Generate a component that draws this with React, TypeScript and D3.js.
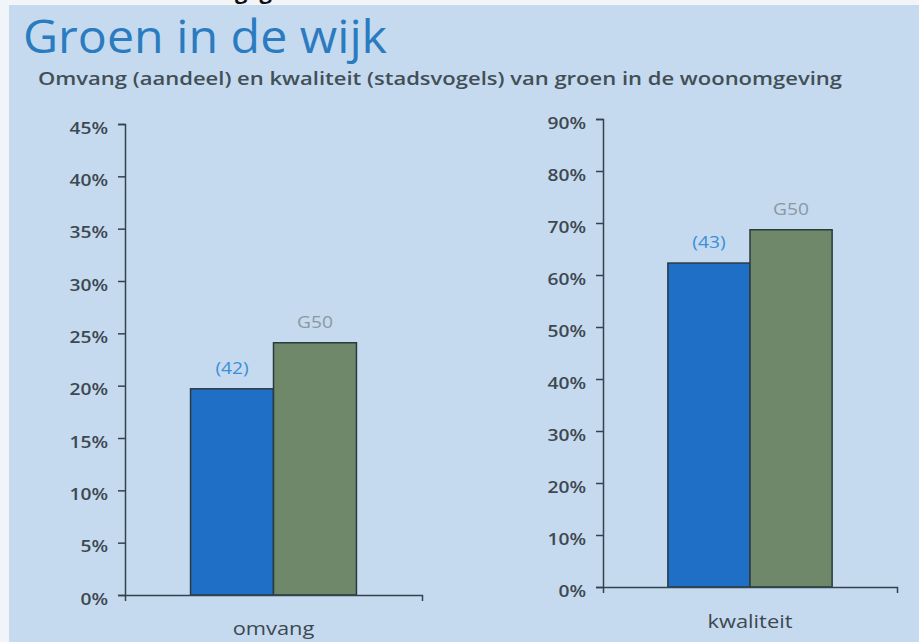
import { useEffect, useRef } from "react";
import * as d3 from "d3";

const WIDTH = 919;
const HEIGHT = 642;

// data
const CATEGORIES = ["omvang", "kwaliteit"];
const SERIES = ["wijk", "G50"];
const WIJK_LABELS = ["(42)", "(43)"];
const G50_LABEL = "G50";
const WIJK_VALUES = [19.7, 62.3];
const G50_VALUES = [24.1, 68.7];
const Y_MAX = [45, 90];
const Y_STEP = [5, 10];

// layout of the two panels (pixels)
const PANELS = [
    { x0: 125, x1: 422, yTop: 124, yBottom: 595 },
    { x0: 603, x1: 897, yTop: 119, yBottom: 587 },
];

const COLORS = { wijk: "#1f6fc6", G50: "#6e8869" };
const LABEL_COLORS = { wijk: "#3b8fd8", G50: "#8a98a1" };
const AXIS_COLOR = "#33434e";
const TEXT_COLOR = "#3d4850";
const FONT = "'Open Sans', 'Noto Sans', sans-serif";
const SX = 1.2; // the scan is a bit wider than the type

function Panel({ index }: { index: number }) {
    const axesRef = useRef<SVGGElement>(null);
    const p = PANELS[index];

    const yScale = d3
        .scaleLinear()
        .domain([0, Y_MAX[index]])
        .range([p.yBottom, p.yTop]);
    const xScale = d3
        .scaleBand()
        .domain([CATEGORIES[index]])
        .range([p.x0, p.x1])
        .paddingInner(0)
        .paddingOuter(0.395);
    const subScale = d3
        .scaleBand()
        .domain(SERIES)
        .range([0, xScale.bandwidth()]);

    const values = [WIJK_VALUES[index], G50_VALUES[index]];
    const labels = [WIJK_LABELS[index], G50_LABEL];

    useEffect(() => {
        const g = d3.select(axesRef.current);
        g.selectAll("*").remove();

        const yAxis = d3
            .axisLeft(yScale)
            .tickValues(d3.range(0, Y_MAX[index] + 0.001, Y_STEP[index]))
            .tickSize(7)
            .tickSizeOuter(7)
            .tickFormat((d) => `${d}%`);
        const ya = g
            .append("g")
            .attr("transform", `translate(${p.x0},0)`)
            .call(yAxis);
        ya.selectAll("text")
            .attr("x", -17 / SX)
            .attr("dy", 9)
            .attr("transform", `scale(${SX},1)`)
            .attr("font-size", 16)
            .attr("font-weight", 600)
            .attr("fill", TEXT_COLOR);

        const xAxis = d3.axisBottom(xScale).tickSizeInner(0).tickSizeOuter(6);
        const xa = g
            .append("g")
            .attr("transform", `translate(0,${p.yBottom})`)
            .call(xAxis);
        xa.selectAll("text")
            .attr("y", index === 0 ? 40 : 41)
            .attr("dy", 0)
            .attr("transform", "scale(1.15,1)")
            .attr("font-size", 19)
            .attr("fill", TEXT_COLOR);

        g.selectAll(".domain, .tick line")
            .attr("stroke", AXIS_COLOR)
            .attr("stroke-width", 1.5);
        g.selectAll("g").attr("font-family", FONT);
    }, [index]);

    const x0 = xScale(CATEGORIES[index]) || 0;

    return (
        <g>
            {SERIES.map((s, i) => {
                const x = x0 + (subScale(s) || 0);
                const y = yScale(values[i]);
                return (
                    <g key={s}>
                        <rect
                            x={x}
                            y={y}
                            width={subScale.bandwidth()}
                            height={yScale(0) - y}
                            fill={COLORS[s as keyof typeof COLORS]}
                            stroke="#2b3a3f"
                            strokeWidth={1.5}
                        />
                        <text
                            transform={`translate(${x + subScale.bandwidth() / 2},${y - 15}) scale(${SX},1)`}
                            textAnchor="middle"
                            fontSize={16}
                            fontFamily={FONT}
                            fill={LABEL_COLORS[s as keyof typeof LABEL_COLORS]}
                        >
                            {labels[i]}
                        </text>
                    </g>
                );
            })}
            <g ref={axesRef} />
        </g>
    );
}

export default function App() {
    return (
        <svg
            width={WIDTH}
            height={HEIGHT}
            style={{ position: "absolute", left: 0, top: 0 }}
        >
            <rect width={WIDTH} height={HEIGHT} fill="#f1f5f9" />
            <rect x={9} y={5} width={WIDTH - 9} height={HEIGHT - 5} fill="#c5daef" />
            {/* cut-off heading above the scan */}
            <text
                x={235}
                y={-1}
                fontSize={22}
                fontWeight={700}
                fontFamily={FONT}
                letterSpacing={12}
                fill="#111"
            >
                gg
            </text>
            <text
                x={23}
                y={53}
                fontSize={46}
                fontFamily={FONT}
                fill="#2a7bc0"
                textLength={364}
                lengthAdjust="spacingAndGlyphs"
            >
                Groen in de wijk
            </text>
            <text
                x={38}
                y={85}
                fontSize={18}
                fontWeight={600}
                fontFamily={FONT}
                fill="#434f57"
                textLength={804}
                lengthAdjust="spacingAndGlyphs"
            >
                Omvang (aandeel) en kwaliteit (stadsvogels) van groen in de woonomgeving
            </text>
            <Panel index={0} />
            <Panel index={1} />
        </svg>
    );
}
